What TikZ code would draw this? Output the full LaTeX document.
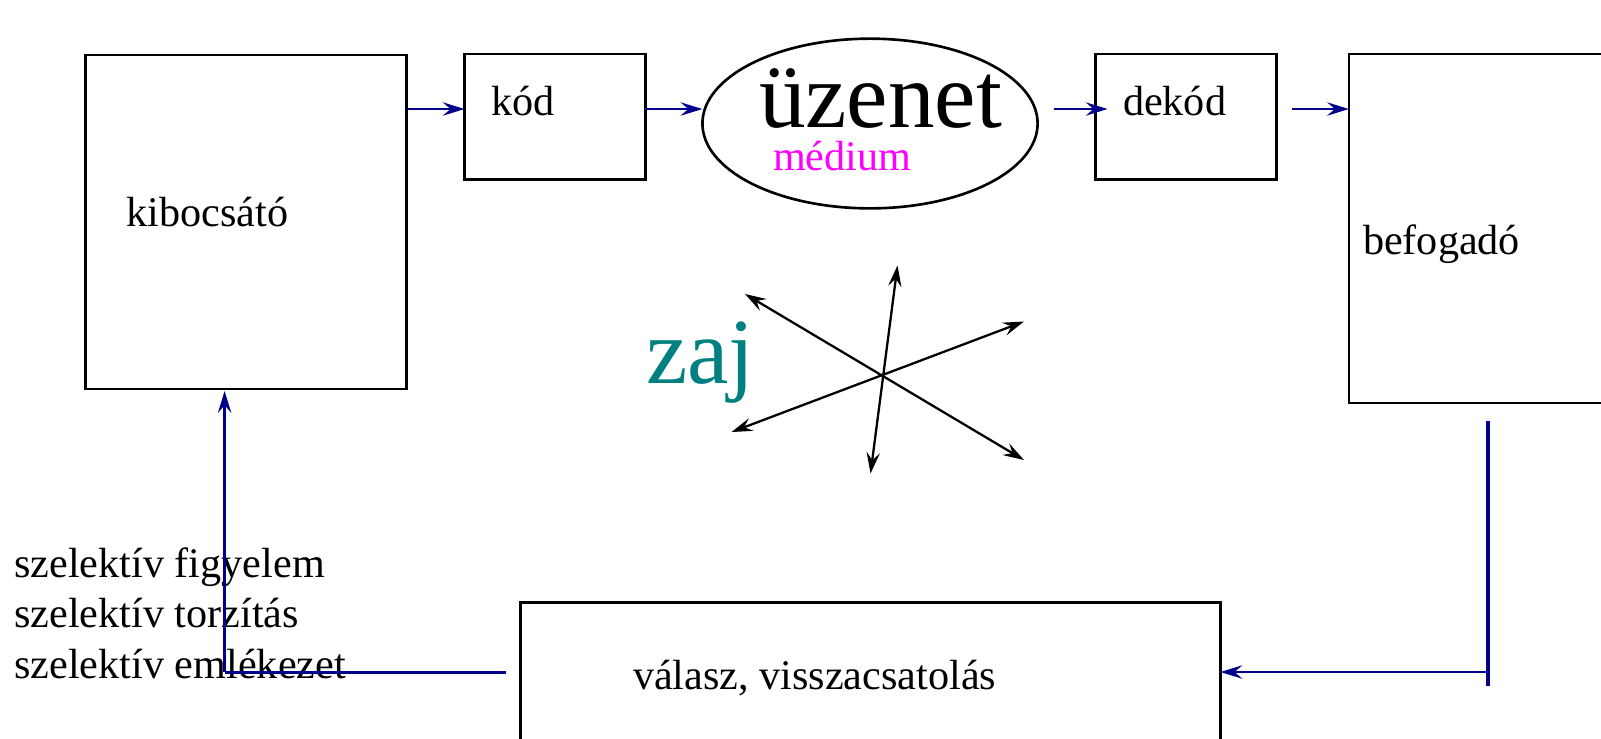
\documentclass[tikz,border=0pt]{standalone}
\usepackage{fontspec}
\setmainfont{Liberation Serif}
\usetikzlibrary{arrows.meta,calc,shapes.geometric}
\definecolor{flowblue}{RGB}{0,0,140}
\definecolor{noiseteal}{RGB}{0,128,128}
\definecolor{medmag}{RGB}{255,0,255}

\begin{document}
\begin{tikzpicture}[x=0.01cm,y=-0.01cm,
  box/.style={draw=black,line width=0.75pt,inner sep=0pt,outer sep=0pt},
  lbl/.style={inner sep=0pt,outer sep=0pt,anchor=base west,font=\fontsize{12}{14.4}\selectfont},
  biglbl/.style={inner sep=0pt,outer sep=0pt,anchor=base west,font=\fontsize{26.5}{30}\selectfont},
  tip/.style={Stealth[length=6.2pt,width=3.8pt,inset=2.2pt]},
  flow/.style={draw=flowblue,line width=0.65pt,-{Stealth[length=6.2pt,width=3.8pt,inset=2.2pt]}},
  noise/.style={draw=black,line width=0.65pt,{Stealth[length=6pt,width=3.8pt,inset=2.2pt]}-{Stealth[length=6pt,width=3.8pt,inset=2.2pt]}},
]
\clip (0,0) rectangle (1601,738);

% boxes of the communication chain
\node[box,minimum width=3.206cm,minimum height=3.339cm] (kib) at (246.1,222) {};
\node[box,minimum width=1.807cm,minimum height=1.257cm] (kod) at (555,116.9) {};
\node[box,ellipse,minimum width=3.35cm,minimum height=1.696cm] (ell) at (870,123.5) {};
\node[box,minimum width=1.808cm,minimum height=1.257cm] (dek) at (1186,116.9) {};
\node[box,minimum width=3.2cm,minimum height=3.49cm] (bef) at (1509,228.5) {};
\node[box,minimum width=6.994cm,minimum height=1.976cm] (val) at (870.5,701.4) {};

% labels
\node[lbl] (tkib) at (126.6,226.7) {kibocsátó};
\node[lbl] (tkod) at (491,115.2) {kód};
\node[biglbl] (tuz) at (759,127.5) {üzenet};
\node[lbl,text=medmag] (tmed) at (773,170.5) {médium};
\node[lbl] (tdek) at (1123,115.2) {dekód};
\node[lbl] (tbef) at (1363,254.5) {befogadó};
\node[biglbl,text=noiseteal] (tzaj) at (646,383) {zaj};
\node[lbl] (tval) at (633,689) {válasz, visszacsatolás};
\node[lbl] (sel1) at (14.3,577) {szelektív figyelem};
\node[lbl] (sel2) at (14.3,627.5) {szelektív torzítás};
\node[lbl] (sel3) at (14.3,678) {szelektív emlékezet};

% helper coordinates
\coordinate (row) at (0,109);
\coordinate (fbrow) at (0,672);
\coordinate (fbtop) at (1487.7,420.7);
\coordinate (fbbot) at (1487.7,686);
\coordinate (lx) at (224.6,0);

% forward flow
\draw[flow] (kib.east |- row) -- (kod.west |- row);
\draw[flow] (kod.east |- row) -- (ell.west |- row);
\draw[flow,shorten >=-0.12cm] ([xshift=0.165cm]ell.east |- row) -- (dek.west |- row);
\draw[flow] ([xshift=0.153cm]dek.east |- row) -- (bef.west |- row);

% feedback path
\draw[draw=flowblue,line width=1.05pt] (fbtop) -- (fbbot);
\draw[flow] (fbtop |- fbrow) -- (val.east |- fbrow);
\draw[draw=flowblue,line width=0.85pt] ([xshift=-0.143cm]val.west |- fbrow) -- (lx |- fbrow);
\draw[flow,shorten >=0.02cm] (lx |- fbrow) -- (lx |- kib.south);

% noise star
\coordinate (na1) at (897.5,265.5);
\coordinate (na2) at (870.5,473.5);
\coordinate (nb1) at (745,294);
\coordinate (nb2) at (1024,460);
\coordinate (nc1) at (1024,321.5);
\coordinate (nc2) at (731.5,432);
\draw[noise] (na1) -- (na2);
\draw[noise] (nb1) -- (nb2);
\draw[noise] (nc1) -- (nc2);
\end{tikzpicture}
\end{document}
